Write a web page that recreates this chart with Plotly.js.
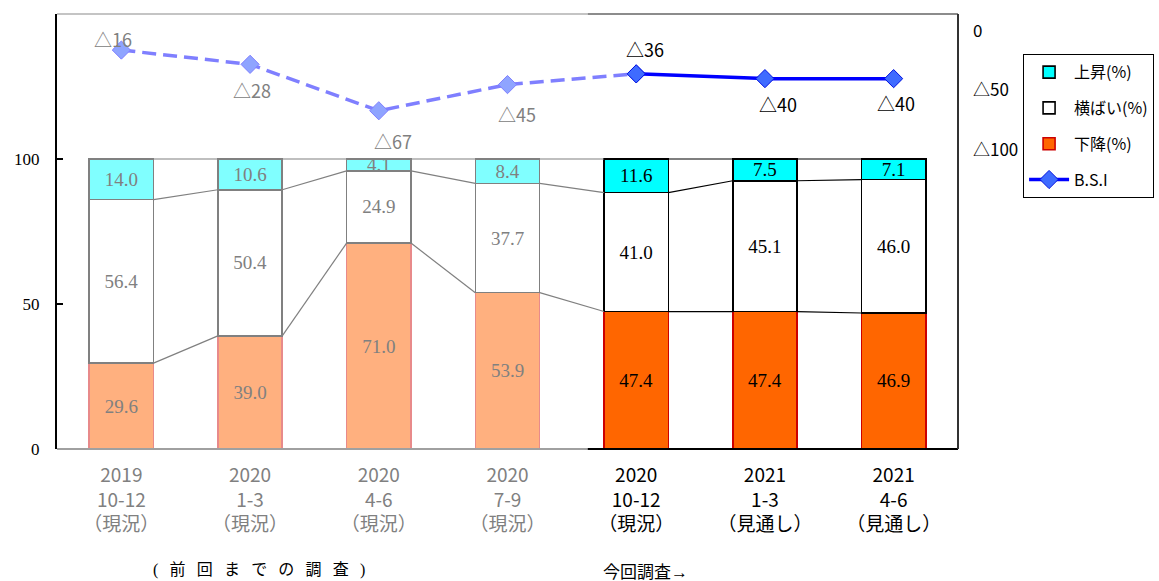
<!DOCTYPE html>
<html>
<head>
<meta charset="utf-8">
<script src="https://cdn.plot.ly/plotly-3.0.1.min.js"></script>
<style>html,body{margin:0;padding:0;background:#fff;}#chart{width:1159px;height:581px;}</style>
</head>
<body>
<div id="chart"></div>
<script>
// ---- data ----
const periodYears = ['2019', '2020', '2020', '2020', '2020', '2021', '2021'];
const periodMonths = ['10-12', '1-3', '4-6', '7-9', '10-12', '1-3', '4-6'];
const periodKinds = ['（現況）', '（現況）', '（現況）', '（現況）', '（現況）', '（見通し）', '（見通し）'];
const upValues = [14.0, 10.6, 4.1, 8.4, 11.6, 7.5, 7.1];
const flatValues = [56.4, 50.4, 24.9, 37.7, 41.0, 45.1, 46.0];
const downValues = [29.6, 39.0, 71.0, 53.9, 47.4, 47.4, 46.9];
const bsiValues = [-16, -28, -67, -45, -36, -40, -40];
const seriesNames = ['上昇(%)', '横ばい(%)', '下降(%)', 'B.S.I'];
const rightTickVals = [0, -50, -100];
const rightTickText = ['0', '△50', '△100'];
const leftTickVals = [0, 50, 100];
const prevCount = 4; // first four periods are earlier surveys
const noteLeft = '(\u2002\u2009前\u2002\u2009回\u2002\u2009ま\u2002\u2009で\u2002\u2009の\u2002\u2009調\u2002\u2009査\u2002\u2009)';
const noteRight = '今回調査→';

// ---- helpers ----
const idx = upValues.map((_, i) => i);
const oldIdx = idx.slice(0, prevCount);
const newIdx = idx.slice(prevCount);
const pick = (arr, ids) => ids.map(i => arr[i]);

const GRAY = '#808080';
const sans = 'Noto Sans CJK JP, Noto Sans, sans-serif';
const serif = 'Liberation Serif, DejaVu Serif, serif';
const BW = 0.5;

function barTrace(vals, ids, name, fill, lineCol, txtCol, showLeg, rank) {
  return {
    type: 'bar', x: ids, y: pick(vals, ids), width: BW, name: name,
    marker: {color: fill, line: {color: lineCol, width: 1.6}},
    texttemplate: '%{y:.1f}', textposition: 'inside', insidetextanchor: 'middle',
    textangle: 0, constraintext: 'none',
    textfont: {family: serif, size: 19, color: txtCol},
    showlegend: showLeg, legendgroup: name + (showLeg ? '' : '_o'), legendrank: rank,
    hoverinfo: 'skip', cliponaxis: false
  };
}

const traces = [];
traces.push(barTrace(downValues, oldIdx, seriesNames[2], '#FFB07F', '#E88A8A', GRAY, false, 30));
traces.push(barTrace(downValues, newIdx, seriesNames[2], '#FF6600', '#CC0000', '#000', true, 3));
traces.push(barTrace(flatValues, oldIdx, seriesNames[1], '#FFFFFF', GRAY, GRAY, false, 20));
traces.push(barTrace(flatValues, newIdx, seriesNames[1], '#FFFFFF', '#000', '#000', true, 2));
traces.push(barTrace(upValues, oldIdx, seriesNames[0], '#80FFFF', GRAY, GRAY, false, 10));
traces.push(barTrace(upValues, newIdx, seriesNames[0], '#00FFFF', '#000', '#000', true, 1));

// series lines connecting stacked segment tops
const lvl1 = downValues;
const lvl2 = downValues.map((d, i) => d + flatValues[i]);
const lvl3 = downValues.map((d, i) => d + flatValues[i] + upValues[i]);
function seriesLines(pairs, color) {
  const x = [], y = [];
  [lvl1, lvl2, lvl3].forEach(l => {
    pairs.forEach(i => { x.push(i + BW / 2, i + 1 - BW / 2, null); y.push(l[i], l[i + 1], null); });
  });
  return {type: 'scatter', mode: 'lines', x: x, y: y, line: {color: color, width: 1.2},
          showlegend: false, hoverinfo: 'skip', connectgaps: false};
}
traces.push(seriesLines(idx.slice(0, prevCount), GRAY));
traces.push(seriesLines(idx.slice(prevCount, idx.length - 1), '#000'));

// BSI line
const oldLineIdx = idx.slice(0, prevCount + 1);
traces.push({
  type: 'scatter', mode: 'lines+markers', x: oldLineIdx, y: pick(bsiValues, oldLineIdx), yaxis: 'y2',
  line: {color: '#7F7FFF', width: 3.5, dash: '14px,7px'},
  marker: {symbol: 'diamond', size: 14, color: '#8FA4FF', line: {color: '#7F7FFF', width: 1}},
  showlegend: false, hoverinfo: 'skip', cliponaxis: false
});
traces.push({
  type: 'scatter', mode: 'lines+markers', x: newIdx, y: pick(bsiValues, newIdx), yaxis: 'y2',
  name: seriesNames[3], legendgroup: seriesNames[3], legendrank: 4,
  line: {color: '#0000FF', width: 3.5},
  marker: {symbol: 'diamond', size: 14, color: '#3F6BFF', line: {color: '#0010E0', width: 1}},
  showlegend: true, hoverinfo: 'skip', cliponaxis: false
});

// BSI value labels (pixel offsets are styling only)
const labelShift = [[-8, 11], [2, -26], [14, -30], [9, -29], [9, 25], [13, -25], [2, -24]];
const bsiLabels = idx.map(i => ({
  x: i, y: bsiValues[i], xref: 'x', yref: 'y2', text: '△' + Math.abs(bsiValues[i]),
  showarrow: false, xanchor: 'center', yanchor: 'middle',
  xshift: labelShift[i][0], yshift: labelShift[i][1],
  font: {family: sans, size: 18, color: i < prevCount ? GRAY : '#000'}
}));

const tickText = idx.map(i => {
  const col = i < prevCount ? GRAY : '#000';
  return '<span style="color:' + col + '">' + periodYears[i] + '<br>' + periodMonths[i] + '<br>' + periodKinds[i] + '</span>';
});

const split = 0.589;
const layout = {
  width: 1159, height: 581,
  margin: {l: 57, r: 201, t: 14, b: 132, autoexpand: false},
  paper_bgcolor: '#fff', plot_bgcolor: '#fff',
  barmode: 'stack',
  showlegend: true,
  font: {family: sans},
  xaxis: {
    range: [-0.5, 6.5], tickvals: idx, ticktext: tickText, ticks: '',
    showgrid: false, zeroline: false, showline: false,
    tickfont: {family: sans, size: 19, color: '#000'}, ticklabelstandoff: 13
  },
  yaxis: {
    range: [0, 150], tickvals: leftTickVals, ticks: 'inside', ticklen: 6, tickwidth: 2, tickcolor: '#000',
    showline: true, linecolor: '#000', linewidth: 2, showgrid: false, zeroline: false,
    tickfont: {family: serif, size: 17, color: '#000'}, ticklabelstandoff: 12
  },
  yaxis2: {
    overlaying: 'y', side: 'right', range: [-351.2, 14.3], tickvals: rightTickVals, ticktext: rightTickText,
    ticks: '', showgrid: false, zeroline: false, showline: false,
    tickfont: {family: sans, size: 17, color: '#000'}, ticklabelstandoff: 14
  },
  legend: {
    x: 1.072, y: 0.908, xanchor: 'left', yanchor: 'top',
    bordercolor: '#000', borderwidth: 1.2, bgcolor: '#fff',
    font: {family: sans, size: 16, color: '#000'},
    traceorder: 'grouped', tracegroupgap: 12, itemwidth: 40
  },
  shapes: [
    {type: 'line', xref: 'paper', yref: 'paper', x0: 0, x1: split, y0: 0, y1: 0, line: {color: '#A0A0A0', width: 2}},
    {type: 'line', xref: 'paper', yref: 'paper', x0: split, x1: 1, y0: 0, y1: 0, line: {color: '#000', width: 2}},
    {type: 'line', xref: 'paper', yref: 'paper', x0: 0, x1: split, y0: 1, y1: 1, line: {color: '#C4C4C4', width: 2}},
    {type: 'line', xref: 'paper', yref: 'paper', x0: split, x1: 1, y0: 1, y1: 1, line: {color: '#8C8C8C', width: 2}},
    {type: 'line', xref: 'paper', yref: 'paper', x0: 1, x1: 1, y0: 0, y1: 1, line: {color: '#333', width: 2}}
  ],
  annotations: bsiLabels.concat([
    {xref: 'paper', yref: 'paper', x: 0.224, y: -0.278, text: noteLeft, showarrow: false,
     xanchor: 'center', yanchor: 'middle', font: {family: serif + ', Noto Sans CJK JP', size: 16, color: '#000'}},
    {xref: 'paper', yref: 'paper', x: 0.653, y: -0.283, text: noteRight, showarrow: false,
     xanchor: 'center', yanchor: 'middle', font: {family: serif + ', Noto Sans CJK JP', size: 17, color: '#000'}}
  ])
};

Plotly.newPlot('chart', traces, layout, {displayModeBar: false, staticPlot: true});
</script>
</body>
</html>
